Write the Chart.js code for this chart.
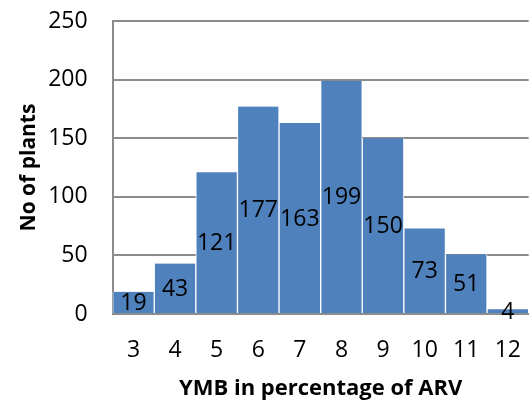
<!DOCTYPE html>
<html>
<head>
<meta charset="utf-8">
<script src="https://cdn.jsdelivr.net/npm/chart.js@4/dist/chart.umd.min.js"></script>
<style>
  html, body { margin: 0; padding: 0; background: #fff; overflow: hidden; }
  #wrap { width: 544px; height: 403px; }
</style>
</head>
<body>
<div id="wrap"><canvas id="chart"></canvas></div>
<script>
const categories = ["3", "4", "5", "6", "7", "8", "9", "10", "11", "12"];
const plantCounts = [19, 43, 121, 177, 163, 199, 150, 73, 51, 4];
const yTicks = [0, 50, 100, 150, 200, 250];

const barColor = "#4F81BD";
const gridColor = "#8c8c8c";
const fontFamily = "'Open Sans', sans-serif";

// draws the value in the middle of every bar
const centerLabels = {
  id: "centerLabels",
  afterDatasetsDraw(chart) {
    const ctx = chart.ctx;
    const meta = chart.getDatasetMeta(0);
    ctx.save();
    ctx.font = "23px " + fontFamily;
    ctx.fillStyle = "#000";
    ctx.textAlign = "center";
    ctx.textBaseline = "middle";
    meta.data.forEach((bar, i) => {
      const mid = (bar.y + bar.base) / 2;
      ctx.fillText(String(plantCounts[i]), bar.x, mid + 1);
    });
    ctx.restore();
  }
};

new Chart(document.getElementById("chart"), {
  type: "bar",
  data: {
    labels: categories,
    datasets: [
      {
        data: plantCounts,
        backgroundColor: barColor,
        borderColor: "#ffffff",
        borderWidth: { left: 1, right: 1, top: 0, bottom: 0 },
        borderSkipped: false,
        barPercentage: 1,
        categoryPercentage: 1,
      },
    ],
  },
  options: {
    responsive: true,
    maintainAspectRatio: false,
    animation: false,
    layout: { padding: { top: 21, right: 0, left: 16, bottom: 1 } },
    plugins: {
      legend: { display: false },
      tooltip: { enabled: false },
    },
    scales: {
      x: {
        grid: { display: false, drawTicks: false },
        border: { color: gridColor, width: 2 },
        ticks: {
          color: "#000",
          padding: 23,
          font: { family: fontFamily, size: 23 },
        },
        title: {
          display: true,
          text: "YMB in percentage of ARV",
          color: "#000",
          padding: { top: -12, bottom: 0 },
          font: { family: fontFamily, size: 22, weight: "bold" },
        },
      },
      y: {
        min: 0,
        max: 250,
        afterBuildTicks(axis) {
          axis.ticks = yTicks.map(v => ({ value: v }));
        },
        grid: {
          color: gridColor,
          lineWidth: 2,
          drawTicks: true,
          tickLength: 22,
          tickColor: "rgba(0,0,0,0)",
        },
        border: { color: gridColor, width: 2 },
        ticks: {
          color: "#000",
          padding: 3,
          font: { family: fontFamily, size: 23 },
        },
        title: {
          display: true,
          text: "No of plants",
          color: "#000",
          padding: { top: 0, bottom: 4 },
          font: { family: fontFamily, size: 21, weight: "bold" },
        },
      },
    },
  },
  plugins: [centerLabels],
});
</script>
</body>
</html>
